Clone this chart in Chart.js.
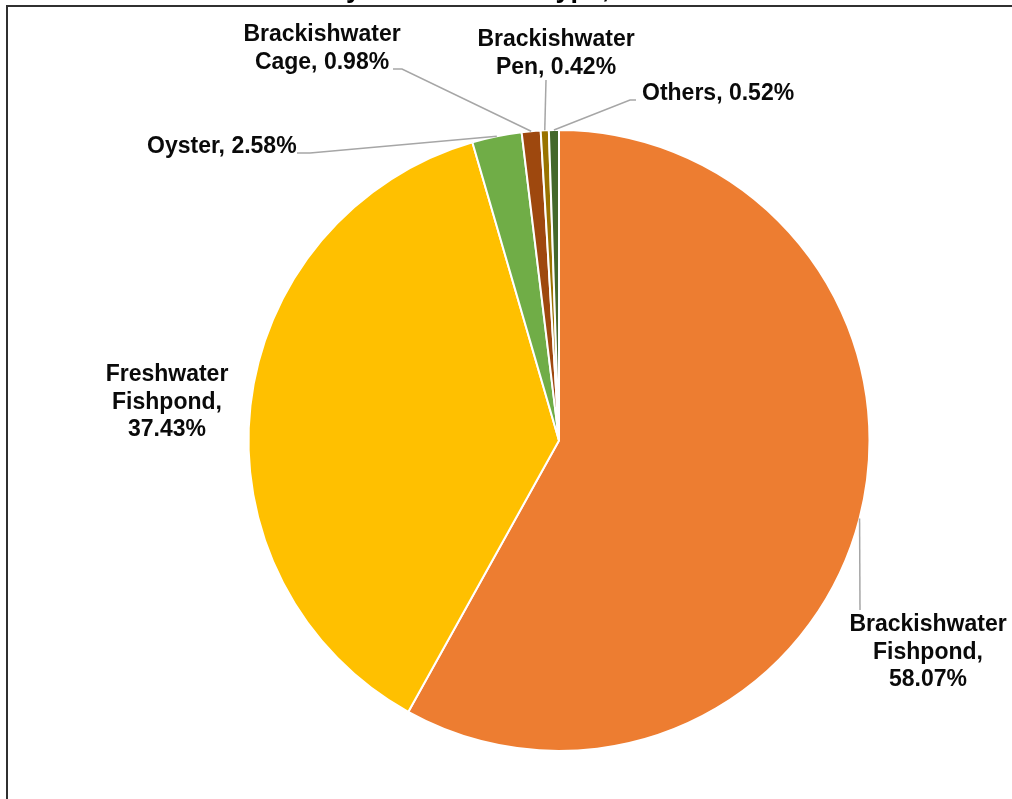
<!DOCTYPE html>
<html>
<head>
<meta charset="utf-8">
<title>Production Share by Type</title>
<style>
    html, body { margin: 0; padding: 0; background: #fff; overflow: hidden; }
    #wrap { position: relative; width: 1012px; height: 799px; }
    #frame {
        position: absolute; left: 6px; top: 5px; width: 1100px; height: 900px;
        border-top: 2px solid #303030; border-left: 2px solid #303030;
    }
    canvas { position: absolute; left: 0; top: 0; }
</style>
</head>
<body>
<div id="wrap">
    <div id="frame"></div>
    <canvas id="myChart" width="1012" height="799"></canvas>
</div>

<script src="https://cdn.jsdelivr.net/npm/chart.js"></script>
<script>
    const titleText = 'Production Share by Environment Type, 2020';
    const categories = ['Brackishwater Fishpond', 'Freshwater Fishpond', 'Oyster', 'Brackishwater Cage', 'Brackishwater Pen', 'Others'];
    const shares = [58.07, 37.43, 2.58, 0.98, 0.42, 0.52];
    const colors = ['#ED7D31', '#FFC000', '#70AD47', '#9E480E', '#997300', '#43682B'];

    // where each label sits and how its leader line bends (first point starts at the slice edge)
    const labelLayout = [
        { x: 928, y: 625, align: 'center', words: [1, 1, 1], leader: [[860, 610]] },
        { x: 167, y: 375, align: 'center', words: [1, 1, 1], leader: [] },
        { x: 147, y: 147, align: 'left', words: [], leader: [[310, 153], [297, 153]] },
        { x: 322, y: 35, align: 'center', words: [1, 2], leader: [[402, 69], [393, 69]] },
        { x: 556, y: 40, align: 'center', words: [1, 2], leader: [[546, 80]] },
        { x: 642, y: 94, align: 'left', words: [], leader: [[630, 100], [636, 100]] }
    ];
    const lineHeight = 27.5;
    const labelFont = 'bold 23px "Liberation Sans", Arial, sans-serif';

    function splitLines(text, words) {
        if (!words.length) return [text];
        const parts = text.split(' ');
        const lines = [];
        let k = 0;
        words.forEach(n => { lines.push(parts.slice(k, k + n).join(' ')); k += n; });
        if (k < parts.length) lines.push(parts.slice(k).join(' '));
        return lines;
    }

    const outsideLabels = {
        id: 'outsideLabels',
        afterDatasetsDraw(chart) {
            const ctx = chart.ctx;
            const meta = chart.getDatasetMeta(0);
            ctx.save();

            // title, mostly cut off by the top edge of the picture
            ctx.font = 'bold 27px "Liberation Sans", Arial, sans-serif';
            ctx.fillStyle = '#000';
            ctx.textBaseline = 'alphabetic';
            ctx.textAlign = 'left';
            const lead = ctx.measureText('Production Share b').width;
            ctx.fillText(titleText, 346 - lead, -3);

            meta.data.forEach((arc, i) => {
                const lay = labelLayout[i];
                const mid = (arc.startAngle + arc.endAngle) / 2;
                const sx = arc.x + Math.cos(mid) * arc.outerRadius;
                const sy = arc.y + Math.sin(mid) * arc.outerRadius;

                if (lay.leader.length) {
                    ctx.beginPath();
                    ctx.strokeStyle = '#A6A6A6';
                    ctx.lineWidth = 1.5;
                    ctx.moveTo(sx, sy);
                    lay.leader.forEach(p => ctx.lineTo(p[0], p[1]));
                    ctx.stroke();
                }

                const text = categories[i] + ', ' + shares[i].toFixed(2) + '%';
                const lines = splitLines(text, lay.words);
                ctx.font = labelFont;
                ctx.fillStyle = '#0A0A0A';
                ctx.textAlign = lay.align;
                ctx.textBaseline = 'middle';
                lines.forEach((ln, j) => ctx.fillText(ln, lay.x, lay.y + j * lineHeight));
            });
            ctx.restore();
        }
    };

    const ctx = document.getElementById('myChart');

    new Chart(ctx, {
        type: 'pie',
        data: {
            labels: categories,
            datasets: [{
                data: shares,
                backgroundColor: colors,
                borderColor: '#FFFFFF',
                borderWidth: 2
            }]
        },
        options: {
            responsive: false,
            animation: false,
            layout: {
                padding: { left: 247, right: 141, top: 129, bottom: 47 }
            },
            plugins: {
                legend: { display: false },
                tooltip: { enabled: false },
                title: { display: false }
            }
        },
        plugins: [outsideLabels]
    });
</script>
</body>
</html>
